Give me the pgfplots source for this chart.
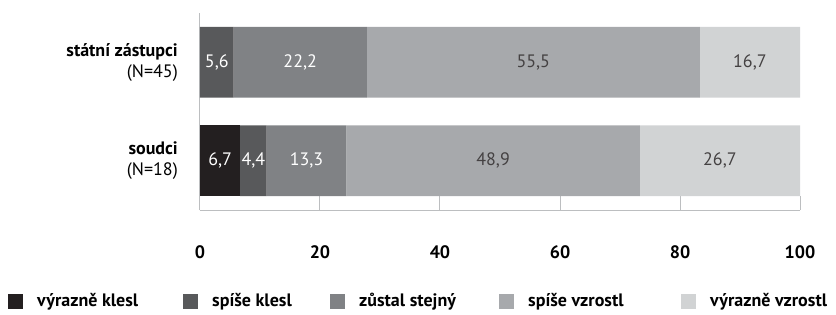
\documentclass[border=0pt]{standalone}
\usepackage{pgfplots}
\pgfplotsset{compat=1.18}
\usepackage{pgfplotstable}
\usepackage{fontspec}
\setmainfont{PT Sans}
\definecolor{c1}{HTML}{231F20}
\definecolor{c2}{HTML}{58595B}
\definecolor{c3}{HTML}{808285}
\definecolor{c4}{HTML}{A7A9AC}
\definecolor{c5}{HTML}{D1D3D4}
\definecolor{axc}{HTML}{BCBEC0}
\pgfplotstableread{
y vk sk zs sv vv
0 6.7 4.4 13.3 48.9 26.7
1 0 5.6 22.2 55.5 16.7
}\data
% label positions (segment midpoints) and texts
\pgfplotstableread{
x y lab
3.35 0 6,7
8.9 0 4,4
17.75 0 13,3
2.8 1 5,6
16.7 1 22,2
}\labwhite
\pgfplotstableread{
x y lab
48.85 0 48,9
86.65 0 26,7
55.55 1 55,5
91.65 1 16,7
}\labdark
\pgfplotsset{legsq/.style={legend image code/.code={\fill[##1,draw=none] (0pt,-7.5pt) rectangle (15pt,7.5pt); \path (29pt,0pt);}}}
\begin{document}
\begin{tikzpicture}
\path[use as bounding box] (-200pt,-104pt) rectangle (636pt,210pt);
\begin{axis}[
 scale only axis, width=600pt, height=197pt,
 xbar stacked, bar width=0.717,
 xmin=0, xmax=100, ymin=-0.5, ymax=1.5,
 axis x line*=bottom, axis y line*=left,
 axis line style={draw=axc, line width=1pt, -},
 xtick={0,20,...,100},
 tick align=inside,
 major tick length=14pt,
 xtick style={draw=axc, line width=1pt},
 ytick={0,1},
 ytick style={draw=none},
 yticklabels={{\textbf{soudci}\\(N=18)},{\textbf{státní zástupci}\\(N=45)}},
 yticklabel style={align=right, inner sep=0pt, xshift=-22pt, font=\fontsize{18}{21}\selectfont},
 xticklabel style={inner sep=0pt, yshift=-35pt, font=\fontsize{18}{21}\selectfont\bfseries},
 /pgf/number format/assume math mode=true,
 legend columns=5,
 legend style={at={(-0.32,-0.462)}, anchor=west, draw=none, fill=none, inner sep=0pt, column sep=0pt, nodes={inner sep=0pt}, font=\fontsize{18}{21}\selectfont\bfseries},
]
\addplot[fill=c1, draw=none, legsq] table[x=vk, y=y] {\data};
\addlegendentry{\makebox[146pt][l]{výrazně klesl}}
\addplot[fill=c2, draw=none, legsq] table[x=sk, y=y] {\data};
\addlegendentry{\makebox[118pt][l]{spíše klesl}}
\addplot[fill=c3, draw=none, legsq] table[x=zs, y=y] {\data};
\addlegendentry{\makebox[140pt][l]{zůstal stejný}}
\addplot[fill=c4, draw=none, legsq] table[x=sv, y=y] {\data};
\addlegendentry{\makebox[153pt][l]{spíše vzrostl}}
\addplot[fill=c5, draw=none, legsq] table[x=vv, y=y] {\data};
\addlegendentry{výrazně vzrostl}
\end{axis}
\begin{axis}[
 scale only axis, width=600pt, height=197pt,
 xmin=0, xmax=100, ymin=-0.5, ymax=1.5,
 hide axis, clip=false,
]
\addplot[draw=none, mark=none, nodes near coords, point meta=explicit symbolic,
  every node near coord/.append style={anchor=center, inner sep=0pt, text=white, font=\fontsize{18}{21}\selectfont}]
  table[x=x, y=y, meta=lab] {\labwhite};
\addplot[draw=none, mark=none, nodes near coords, point meta=explicit symbolic,
  every node near coord/.append style={anchor=center, inner sep=0pt, text=c1!85, font=\fontsize{18}{21}\selectfont}]
  table[x=x, y=y, meta=lab] {\labdark};
\end{axis}
\end{tikzpicture}
\end{document}
